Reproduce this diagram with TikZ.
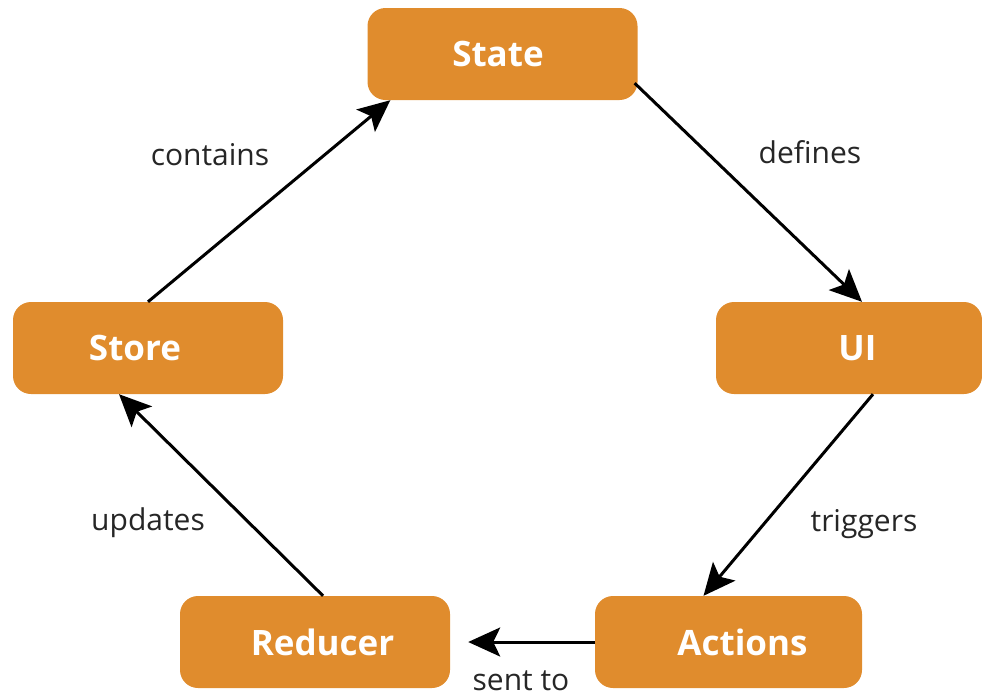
\documentclass[tikz,border=0pt]{standalone}
\usepackage{fontspec}
\setmainfont{Open Sans}
\usetikzlibrary{arrows.meta}
\definecolor{boxorange}{RGB}{224,140,45}
\tikzset{
  boxnode/.style={fill=boxorange, draw=none, rounded corners=18pt, minimum width=270pt, minimum height=92pt, inner sep=0pt, text=white, font=\fontsize{35}{40}\selectfont\bfseries},
  conn/.style={line width=3pt, -{Stealth[length=32pt,width=29pt,inset=7pt]}},
  lbl/.style={anchor=base, inner sep=0pt, text=black!85, font=\fontsize{30}{34}\selectfont}
}
\begin{document}
\begin{tikzpicture}[x=1pt,y=-1pt]
\useasboundingbox (0,0) rectangle (982,697);
\node[boxnode] (state) at (502.5,54) {\hspace*{-9pt}State};
\node[boxnode] (store) at (148,348) {\hspace*{-26pt}Store};
\node[boxnode, minimum width=266pt] (ui) at (849,348) {\hspace*{17pt}UI};
\node[boxnode] (reducer) at (315,642) {\hspace*{15pt}Reducer};
\node[boxnode, minimum width=267pt] (actions) at (728.5,642) {\hspace*{28pt}Actions};

\draw[conn] (store.north) -- ([xshift=23pt]state.south west);
\draw[conn] ([xshift=-3pt,yshift=17pt]state.south east) -- ([xshift=13pt]ui.north);
\draw[conn] ([xshift=24pt]ui.south) -- ([xshift=-25pt]actions.north);
\draw[conn] (actions.west) -- ([xshift=18pt]reducer.east);
\draw[conn] ([xshift=8pt]reducer.north) -- ([xshift=-29pt]store.south);

\node[lbl] (lcontains) at (210,165) {contains};
\node[lbl] (ldefines) at (810,163) {defines};
\node[lbl] (ltriggers) at (864,531) {triggers};
\node[lbl] (lupdates) at (148,530) {updates};
\node[lbl] (lsent) at (521,690) {sent to};
\end{tikzpicture}
\end{document}
